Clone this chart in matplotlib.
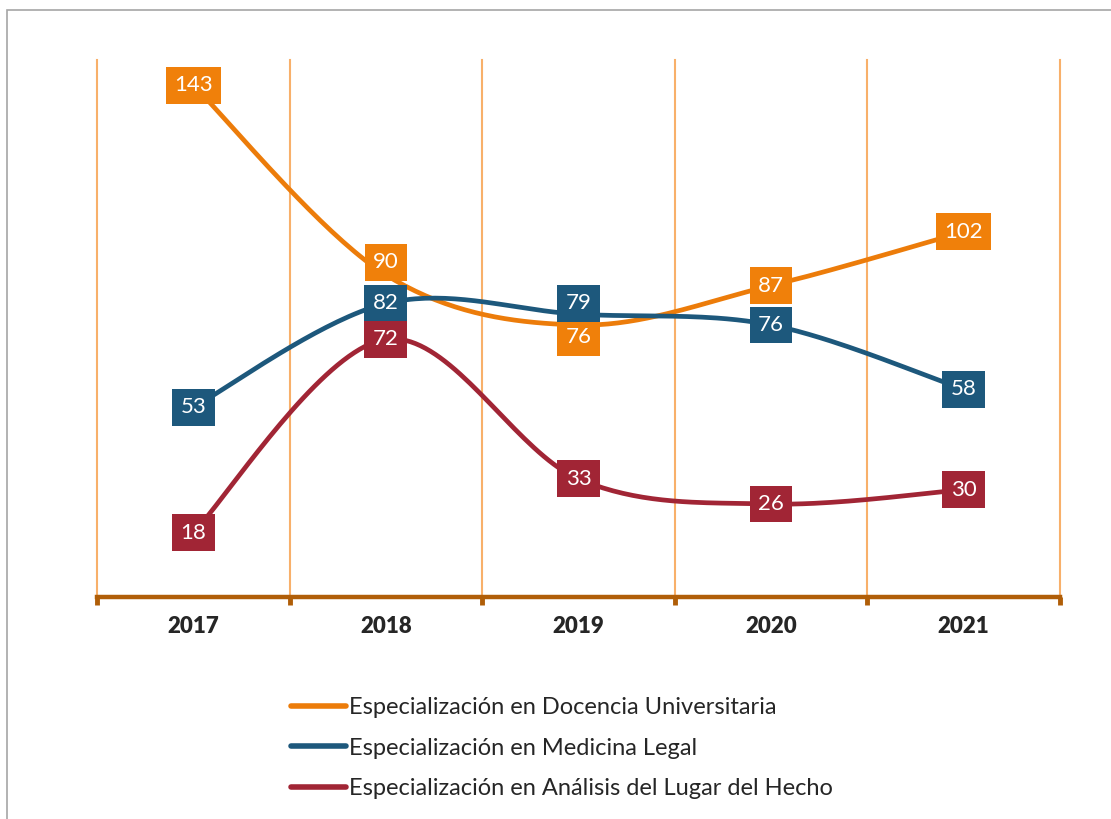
import numpy as np
import matplotlib.pyplot as plt
from matplotlib.patches import Rectangle
from matplotlib.lines import Line2D

years = ['2017', '2018', '2019', '2020', '2021']
docencia = [143, 90, 76, 87, 102]
medicina = [53, 82, 79, 76, 58]
analisis = [18, 72, 33, 26, 30]

names = ['Especialización en Docencia Universitaria',
         'Especialización en Medicina Legal',
         'Especialización en Análisis del Lugar del Hecho']
colors = ['#EC7C0A', '#1D587C', '#A12535']
box_colors = ['#F0800A', '#1D587C', '#A12535']
# vertical label nudges in points (to keep labels apart where they crowd)
nudges = [[0, 9, -9, 0, 0], [0, 0, 8, 0, 0], [0, 0, 0, 0, 0]]

plt.rcParams['font.family'] = ['Lato', 'DejaVu Sans']


def smooth(y, n=40):
    # excel-like smoothed line (catmull-rom bezier)
    x = np.arange(len(y), dtype=float)
    pts = np.column_stack([x, np.array(y, dtype=float)])
    ext = np.vstack([pts[0], pts, pts[-1]])
    out = []
    for i in range(len(pts) - 1):
        p0, p1, p2, p3 = ext[i], ext[i + 1], ext[i + 2], ext[i + 3]
        c1 = p1 + (p2 - p0) / 6
        c2 = p2 - (p3 - p1) / 6
        t = np.linspace(0, 1, n)[:, None]
        seg = ((1 - t) ** 3) * p1 + 3 * ((1 - t) ** 2) * t * c1 + 3 * (1 - t) * t ** 2 * c2 + t ** 3 * p2
        out.append(seg)
    out = np.vstack(out)
    return out[:, 0], out[:, 1]


fig = plt.figure(figsize=(11.11, 8.19), dpi=100)
fig.patches.append(Rectangle((0.006, -0.1), 1.2, 1.088, transform=fig.transFigure,
                             fill=False, edgecolor='#A6A6A6', linewidth=1.2))
ax = fig.add_axes([0.0873, 0.271, 0.8667, 0.6557])

for xg in np.arange(-0.5, len(years), 1):
    ax.axvline(xg, color='#F8B06A', linewidth=1.5, zorder=1, clip_on=False)

for vals, c, bc, nd in zip([docencia, medicina, analisis], colors, box_colors, nudges):
    sx, sy = smooth(vals)
    ax.plot(sx, sy, color=c, linewidth=3.4, solid_capstyle='round', zorder=3)
    for i, v in enumerate(vals):
        ax.annotate(str(v), (i, v), xytext=(0, nd[i]), textcoords='offset points',
                    ha='center', va='center', color='white', fontsize=16, zorder=5,
                    bbox=dict(boxstyle='square,pad=0.38', facecolor=bc, edgecolor='none'))

ax.set_xlim(-0.5, len(years) - 0.5)
ax.set_ylim(0, 150)
ax.set_yticks([])
ax.set_xticks(range(len(years)))
ax.set_xticklabels(years, fontsize=16, fontweight='heavy', color='#262626')
ax.set_xticks(np.arange(-0.5, len(years), 1), minor=True)
ax.tick_params(axis='x', which='major', length=0, pad=14)
ax.tick_params(axis='x', which='minor', length=6, width=3.5, color='#B05E08')
for s in ['top', 'right', 'left']:
    ax.spines[s].set_visible(False)
ax.spines['bottom'].set_color('#B05E08')
ax.spines['bottom'].set_linewidth(3.2)

handles = [Line2D([], [], color=c, linewidth=4, solid_capstyle='round') for c in colors]
fig.legend(handles, names, loc='upper left', bbox_to_anchor=(0.251, 0.163), frameon=False,
           fontsize=17, handlelength=2.35, handletextpad=0.12, labelspacing=0.82,
           labelcolor='#262626', borderpad=0)

fig.savefig('out.png', dpi=100)
